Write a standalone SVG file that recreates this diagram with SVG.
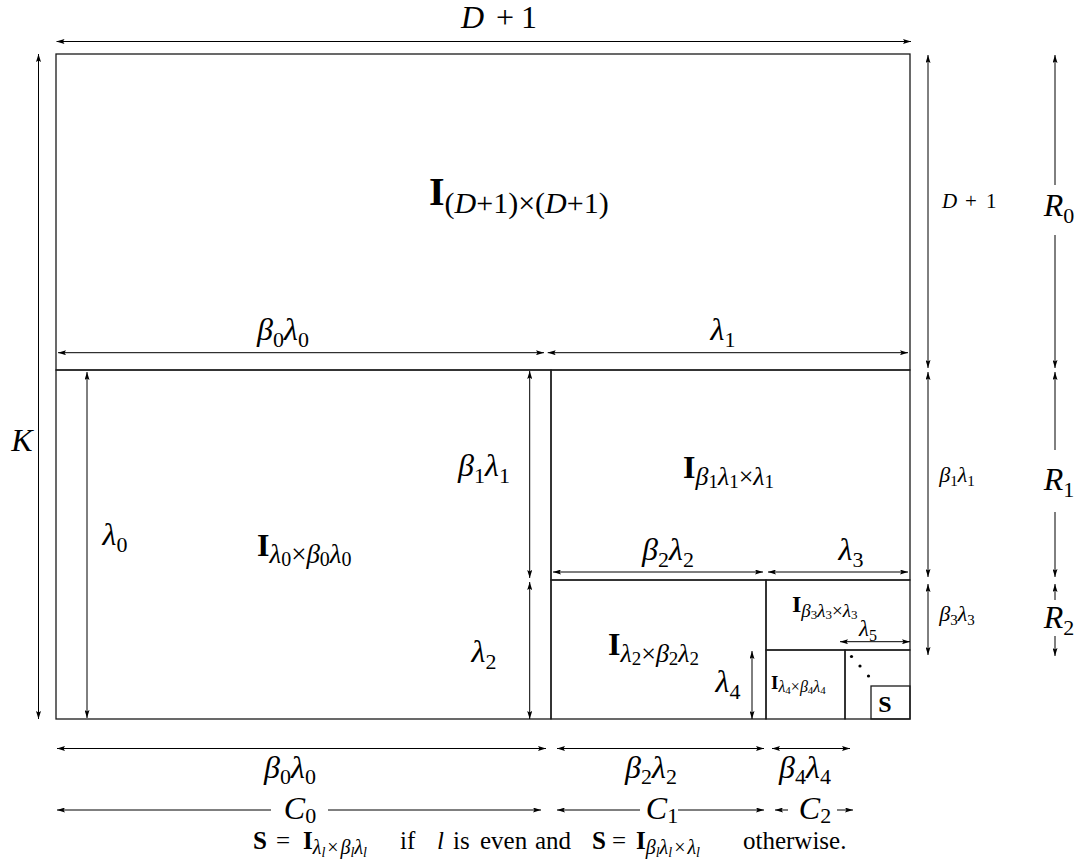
<svg xmlns="http://www.w3.org/2000/svg" width="1081" height="861" viewBox="0 0 1081 861">
<defs>
<marker id="ah" viewBox="0 0 8 5" refX="8" refY="2.5" markerWidth="8" markerHeight="5" markerUnits="userSpaceOnUse" orient="auto-start-reverse">
<path d="M0,0 L8,2.5 L0,5 L1.5,2.5 z" fill="#000"/>
</marker>
</defs>
<style>
text{font-family:"Liberation Serif","DejaVu Serif","Times New Roman",serif;fill:#000}
.it{font-style:italic}
.b{font-weight:bold}
.box{fill:none;stroke:#1a1a1a;stroke-width:1.3}
.dim{stroke:#000;stroke-width:1;fill:none;marker-start:url(#ah);marker-end:url(#ah)}
.st{stroke:#000;stroke-width:1;fill:none;marker-start:url(#ah)}
.en{stroke:#000;stroke-width:1;fill:none;marker-end:url(#ah)}
</style>
<rect width="1081" height="861" fill="#fff"/>

<g id="block-top">
<rect class="box" x="56" y="54" width="854" height="316"/>
<text x="429" y="205" font-size="29"><tspan class="b" font-size="40">I</tspan><tspan font-size="30" dy="8">(<tspan class="it">D</tspan>+1)×(<tspan class="it">D</tspan>+1)</tspan></text>
</g>

<g id="block-L0">
<rect class="box" x="56" y="370" width="495" height="349"/>
<text x="257" y="556" font-size="32"><tspan class="b">I</tspan><tspan font-size="27" dy="7"><tspan class="it">λ</tspan><tspan font-size="20" dy="3">0</tspan><tspan dy="-3">×</tspan><tspan class="it">β</tspan><tspan font-size="20" dy="3">0</tspan><tspan class="it" dy="-3">λ</tspan><tspan font-size="20" dy="3">0</tspan></tspan></text>
</g>

<g id="block-B1">
<rect class="box" x="551" y="370" width="359" height="210"/>
<text x="683" y="478" font-size="32"><tspan class="b">I</tspan><tspan font-size="26" dy="7"><tspan class="it">β</tspan><tspan font-size="19" dy="3">1</tspan><tspan class="it" dy="-3">λ</tspan><tspan font-size="19" dy="3">1</tspan><tspan dy="-3">×</tspan><tspan class="it">λ</tspan><tspan font-size="19" dy="3">1</tspan></tspan></text>
</g>

<g id="block-L2">
<rect class="box" x="551" y="580" width="215" height="139"/>
<text x="608" y="655" font-size="32"><tspan class="b">I</tspan><tspan font-size="26" dy="7"><tspan class="it">λ</tspan><tspan font-size="19" dy="3">2</tspan><tspan dy="-3">×</tspan><tspan class="it">β</tspan><tspan font-size="19" dy="3">2</tspan><tspan class="it" dy="-3">λ</tspan><tspan font-size="19" dy="3">2</tspan></tspan></text>
</g>

<g id="block-B3">
<rect class="box" x="766" y="580" width="144" height="70"/>
<text x="792" y="612" font-size="24"><tspan class="b">I</tspan><tspan font-size="19" dy="5"><tspan class="it">β</tspan><tspan font-size="13" dy="2">3</tspan><tspan class="it" dy="-2">λ</tspan><tspan font-size="13" dy="2">3</tspan><tspan dy="-2">×</tspan><tspan class="it">λ</tspan><tspan font-size="13" dy="2">3</tspan></tspan></text>
</g>

<g id="block-L4">
<rect class="box" x="766" y="650" width="79" height="69"/>
<text x="771" y="689" font-size="19"><tspan class="b">I</tspan><tspan font-size="16" dy="3"><tspan class="it">λ</tspan><tspan font-size="11" dy="1.5">4</tspan><tspan dy="-1.5">×</tspan><tspan class="it">β</tspan><tspan font-size="11" dy="1.5">4</tspan><tspan class="it" dy="-1.5">λ</tspan><tspan font-size="11" dy="1.5">4</tspan></tspan></text>
</g>

<g id="block-rest">
<rect class="box" x="845" y="650" width="65" height="69"/>
<circle cx="851.5" cy="656.5" r="1.6" fill="#000"/>
<circle cx="860" cy="666" r="1.6" fill="#000"/>
<circle cx="868.5" cy="676" r="1.6" fill="#000"/>
</g>

<g id="block-S">
<rect class="box" x="871" y="686" width="39" height="33"/>
<text x="885" y="712" text-anchor="middle" font-size="24" class="b">S</text>
</g>

<g id="connectors">
<line class="dim" x1="56.5" y1="41.5" x2="911" y2="41.5"/>
<line class="dim" x1="38.5" y1="54" x2="38.5" y2="719"/>
<line class="dim" x1="58" y1="352.7" x2="544" y2="352.7"/>
<line class="dim" x1="547.7" y1="352.7" x2="908" y2="352.7"/>
<line class="dim" x1="87" y1="372" x2="87" y2="718"/>
<line class="dim" x1="529.7" y1="371" x2="529.7" y2="578"/>
<line class="dim" x1="529.7" y1="582" x2="529.7" y2="719"/>
<line class="dim" x1="553" y1="572" x2="763" y2="572"/>
<line class="dim" x1="768" y1="572" x2="908" y2="572"/>
<line class="dim" x1="840" y1="641.7" x2="910" y2="641.7"/>
<line class="dim" x1="752" y1="651" x2="752" y2="719"/>
<line class="dim" x1="928" y1="55" x2="928" y2="368"/>
<line class="dim" x1="928" y1="372" x2="928" y2="577"/>
<line class="dim" x1="928" y1="584" x2="928" y2="655"/>
<line class="st" x1="1055" y1="55" x2="1055" y2="185"/>
<line class="en" x1="1055" y1="235" x2="1055" y2="368"/>
<line class="st" x1="1055" y1="372" x2="1055" y2="450"/>
<line class="en" x1="1055" y1="512" x2="1055" y2="577"/>
<line class="st" x1="1055" y1="584" x2="1055" y2="600"/>
<line class="en" x1="1055" y1="636" x2="1055" y2="656"/>
<line class="dim" x1="57" y1="748.5" x2="546" y2="748.5"/>
<line class="dim" x1="557" y1="748.5" x2="764" y2="748.5"/>
<line class="dim" x1="772" y1="748.5" x2="850" y2="748.5"/>
<line class="st" x1="57" y1="810" x2="271" y2="810"/>
<line class="en" x1="328" y1="810" x2="541" y2="810"/>
<line class="st" x1="557" y1="810" x2="640" y2="810"/>
<line class="en" x1="678" y1="810" x2="764" y2="810"/>
<line class="st" x1="775" y1="810" x2="788" y2="810"/>
<line class="en" x1="837" y1="810" x2="853" y2="810"/>
</g>

<g id="labels">
<text y="28" font-size="32"><tspan class="it" x="461">D</tspan><tspan x="496">+</tspan><tspan x="521">1</tspan></text>
<text x="22" y="451" text-anchor="middle" font-size="32" class="it">K</text>
<text x="283" y="340" text-anchor="middle" font-size="32"><tspan class="it">β</tspan><tspan font-size="22" dy="7">0</tspan><tspan class="it" dy="-7">λ</tspan><tspan font-size="22" dy="7">0</tspan></text>
<text x="723" y="340" text-anchor="middle" font-size="32"><tspan class="it">λ</tspan><tspan font-size="22" dy="7">1</tspan></text>
<text x="115" y="545" text-anchor="middle" font-size="32"><tspan class="it">λ</tspan><tspan font-size="22" dy="7">0</tspan></text>
<text x="484" y="476" text-anchor="middle" font-size="32"><tspan class="it">β</tspan><tspan font-size="22" dy="7">1</tspan><tspan class="it" dy="-7">λ</tspan><tspan font-size="22" dy="7">1</tspan></text>
<text x="484" y="662" text-anchor="middle" font-size="32"><tspan class="it">λ</tspan><tspan font-size="22" dy="7">2</tspan></text>
<text x="668" y="560" text-anchor="middle" font-size="32"><tspan class="it">β</tspan><tspan font-size="22" dy="7">2</tspan><tspan class="it" dy="-7">λ</tspan><tspan font-size="22" dy="7">2</tspan></text>
<text x="851" y="560" text-anchor="middle" font-size="32"><tspan class="it">λ</tspan><tspan font-size="22" dy="7">3</tspan></text>
<text x="728" y="692" text-anchor="middle" font-size="32"><tspan class="it">λ</tspan><tspan font-size="22" dy="7">4</tspan></text>
<text x="868" y="636" text-anchor="middle" font-size="23"><tspan class="it">λ</tspan><tspan font-size="16" dy="5">5</tspan></text>
<text y="208" font-size="21"><tspan class="it" x="942">D</tspan><tspan x="965">+</tspan><tspan x="986">1</tspan></text>
<text x="957" y="482" text-anchor="middle" font-size="22"><tspan class="it">β</tspan><tspan font-size="15" dy="4">1</tspan><tspan class="it" dy="-4">λ</tspan><tspan font-size="15" dy="4">1</tspan></text>
<text x="957" y="621" text-anchor="middle" font-size="22"><tspan class="it">β</tspan><tspan font-size="15" dy="4">3</tspan><tspan class="it" dy="-4">λ</tspan><tspan font-size="15" dy="4">3</tspan></text>
<text x="1059" y="216" text-anchor="middle" font-size="32"><tspan class="it">R</tspan><tspan font-size="22" dy="7">0</tspan></text>
<text x="1059" y="490" text-anchor="middle" font-size="32"><tspan class="it">R</tspan><tspan font-size="22" dy="7">1</tspan></text>
<text x="1059" y="628" text-anchor="middle" font-size="32"><tspan class="it">R</tspan><tspan font-size="22" dy="7">2</tspan></text>
<text x="290" y="778" text-anchor="middle" font-size="32"><tspan class="it">β</tspan><tspan font-size="22" dy="6">0</tspan><tspan class="it" dy="-6">λ</tspan><tspan font-size="22" dy="6">0</tspan></text>
<text x="651" y="778" text-anchor="middle" font-size="32"><tspan class="it">β</tspan><tspan font-size="22" dy="6">2</tspan><tspan class="it" dy="-6">λ</tspan><tspan font-size="22" dy="6">2</tspan></text>
<text x="805" y="778" text-anchor="middle" font-size="32"><tspan class="it">β</tspan><tspan font-size="22" dy="6">4</tspan><tspan class="it" dy="-6">λ</tspan><tspan font-size="22" dy="6">4</tspan></text>
<text x="300" y="819" text-anchor="middle" font-size="32"><tspan class="it">C</tspan><tspan font-size="22" dy="4">0</tspan></text>
<text x="662" y="819" text-anchor="middle" font-size="32"><tspan class="it">C</tspan><tspan font-size="22" dy="4">1</tspan></text>
<text x="815" y="819" text-anchor="middle" font-size="32"><tspan class="it">C</tspan><tspan font-size="22" dy="4">2</tspan></text>
<text y="849" font-size="25"><tspan class="b" x="253">S</tspan><tspan x="276">=</tspan><tspan class="b" x="303">I</tspan><tspan font-size="20" y="854"><tspan class="it">λ</tspan><tspan font-size="14" y="857" class="it">l</tspan><tspan y="854" dx="2">×</tspan><tspan class="it" dx="2">β</tspan><tspan font-size="14" y="857" class="it">l</tspan><tspan class="it" y="854">λ</tspan><tspan font-size="14" y="857" class="it">l</tspan></tspan><tspan x="400" y="849">if</tspan><tspan class="it" x="437">l</tspan><tspan x="453">is</tspan><tspan x="480">even</tspan><tspan x="535">and</tspan><tspan class="b" x="592">S</tspan><tspan x="612">=</tspan><tspan class="b" x="636">I</tspan><tspan font-size="20" y="854"><tspan class="it">β</tspan><tspan font-size="14" y="857" class="it">l</tspan><tspan class="it" y="854">λ</tspan><tspan font-size="14" y="857" class="it">l</tspan><tspan y="854" dx="2">×</tspan><tspan class="it" dx="2">λ</tspan><tspan font-size="14" y="857" class="it">l</tspan></tspan><tspan x="743" y="849">otherwise.</tspan></text>
</g>
</svg>
